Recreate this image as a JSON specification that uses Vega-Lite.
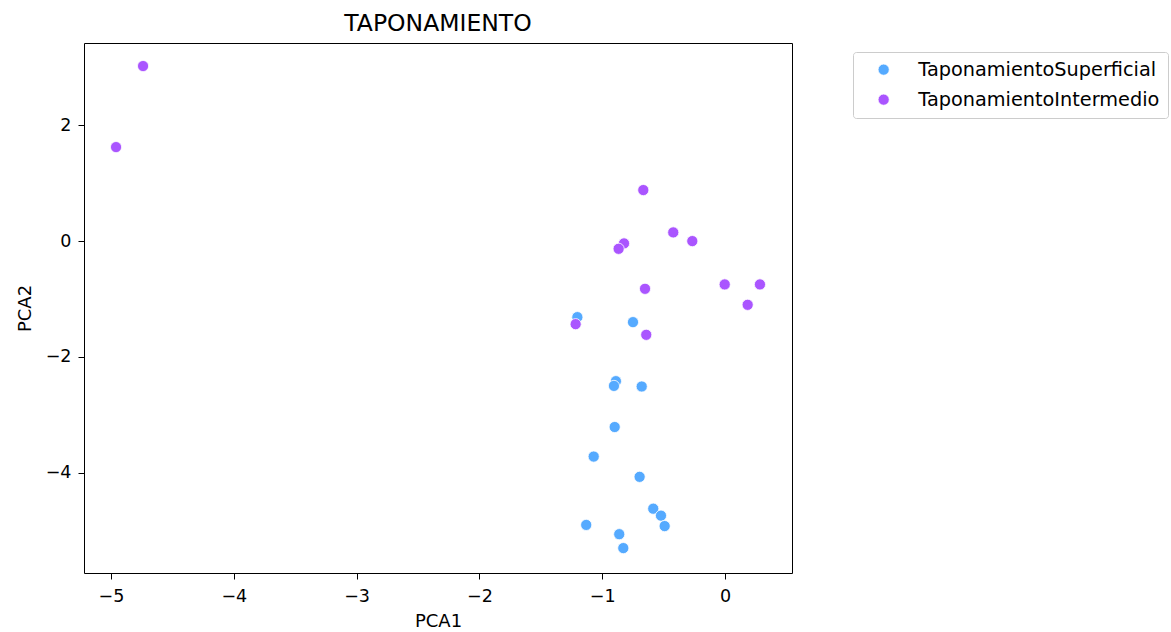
{
  "$schema": "https://vega.github.io/schema/vega-lite/v6.json",
  "autosize": "none",
  "width": 708,
  "height": 530,
  "padding": {"left": 84, "top": 43, "right": 379, "bottom": 59},
  "background": "white",
  "title": {"text": "TAPONAMIENTO", "font": "DejaVu Sans", "fontSize": 23.5, "fontWeight": "normal", "color": "#000", "anchor": "middle", "offset": 8},
  "config": {
    "view": {"stroke": "#000", "strokeWidth": 1},
    "axis": {"labelFont": "DejaVu Sans", "titleFont": "DejaVu Sans", "labelFontSize": 17.5, "titleFontSize": 18, "titleFontWeight": "normal", "labelColor": "#000", "titleColor": "#000", "tickColor": "#000", "domain": false, "grid": false, "tickSize": 6, "labelPadding": 6}
  },
  "data": {"values": [
    {"PCA1": -1.202, "PCA2": -1.313, "grupo": "TaponamientoSuperficial"},
    {"PCA1": -0.749, "PCA2": -1.399, "grupo": "TaponamientoSuperficial"},
    {"PCA1": -0.888, "PCA2": -2.418, "grupo": "TaponamientoSuperficial"},
    {"PCA1": -0.904, "PCA2": -2.50, "grupo": "TaponamientoSuperficial"},
    {"PCA1": -0.678, "PCA2": -2.51, "grupo": "TaponamientoSuperficial"},
    {"PCA1": -0.898, "PCA2": -3.21, "grupo": "TaponamientoSuperficial"},
    {"PCA1": -1.069, "PCA2": -3.72, "grupo": "TaponamientoSuperficial"},
    {"PCA1": -0.695, "PCA2": -4.07, "grupo": "TaponamientoSuperficial"},
    {"PCA1": -0.584, "PCA2": -4.62, "grupo": "TaponamientoSuperficial"},
    {"PCA1": -0.521, "PCA2": -4.74, "grupo": "TaponamientoSuperficial"},
    {"PCA1": -0.491, "PCA2": -4.92, "grupo": "TaponamientoSuperficial"},
    {"PCA1": -1.130, "PCA2": -4.90, "grupo": "TaponamientoSuperficial"},
    {"PCA1": -0.861, "PCA2": -5.06, "grupo": "TaponamientoSuperficial"},
    {"PCA1": -0.828, "PCA2": -5.30, "grupo": "TaponamientoSuperficial"},
    {"PCA1": -4.739, "PCA2": 3.022, "grupo": "TaponamientoIntermedio"},
    {"PCA1": -4.959, "PCA2": 1.623, "grupo": "TaponamientoIntermedio"},
    {"PCA1": -0.665, "PCA2": 0.881, "grupo": "TaponamientoIntermedio"},
    {"PCA1": -0.421, "PCA2": 0.150, "grupo": "TaponamientoIntermedio"},
    {"PCA1": -0.266, "PCA2": 0.0, "grupo": "TaponamientoIntermedio"},
    {"PCA1": -0.822, "PCA2": -0.040, "grupo": "TaponamientoIntermedio"},
    {"PCA1": -0.866, "PCA2": -0.133, "grupo": "TaponamientoIntermedio"},
    {"PCA1": -0.651, "PCA2": -0.824, "grupo": "TaponamientoIntermedio"},
    {"PCA1": -0.002, "PCA2": -0.748, "grupo": "TaponamientoIntermedio"},
    {"PCA1": 0.285, "PCA2": -0.748, "grupo": "TaponamientoIntermedio"},
    {"PCA1": 0.185, "PCA2": -1.10, "grupo": "TaponamientoIntermedio"},
    {"PCA1": -1.216, "PCA2": -1.434, "grupo": "TaponamientoIntermedio"},
    {"PCA1": -0.641, "PCA2": -1.618, "grupo": "TaponamientoIntermedio"}
  ]},
  "mark": {"type": "point", "shape": "circle", "filled": true, "opacity": 1, "size": 125, "stroke": "white", "strokeWidth": 0.8},
  "encoding": {
    "x": {"field": "PCA1", "type": "quantitative", "title": "PCA1",
      "scale": {"domain": [-5.22, 0.546], "nice": false, "zero": false},
      "axis": {"values": [-5, -4, -3, -2, -1, 0], "labelPadding": 8, "titlePadding": 8}},
    "y": {"field": "PCA2", "type": "quantitative", "title": "PCA2",
      "scale": {"domain": [-5.73, 3.42], "nice": false, "zero": false},
      "axis": {"values": [-4, -2, 0, 2], "labelPadding": 7, "titlePadding": 11}},
    "color": {"field": "grupo", "type": "nominal",
      "scale": {"domain": ["TaponamientoSuperficial", "TaponamientoIntermedio"], "range": ["#55aaff", "#aa55ff"]},
      "legend": {"title": null, "orient": "none", "legendX": 769, "legendY": 9,
        "labelFont": "DejaVu Sans", "labelFontSize": 19.3, "labelColor": "#000", "labelLimit": 400,
        "symbolType": "circle", "symbolSize": 125, "symbolStrokeColor": "white", "symbolStrokeWidth": 0.8,
        "strokeColor": "#cccccc", "cornerRadius": 3, "padding": 8, "symbolOffset": 13, "rowPadding": 10, "labelOffset": 25, "offset": 0,
        "fillColor": "white"}}
  }
}
